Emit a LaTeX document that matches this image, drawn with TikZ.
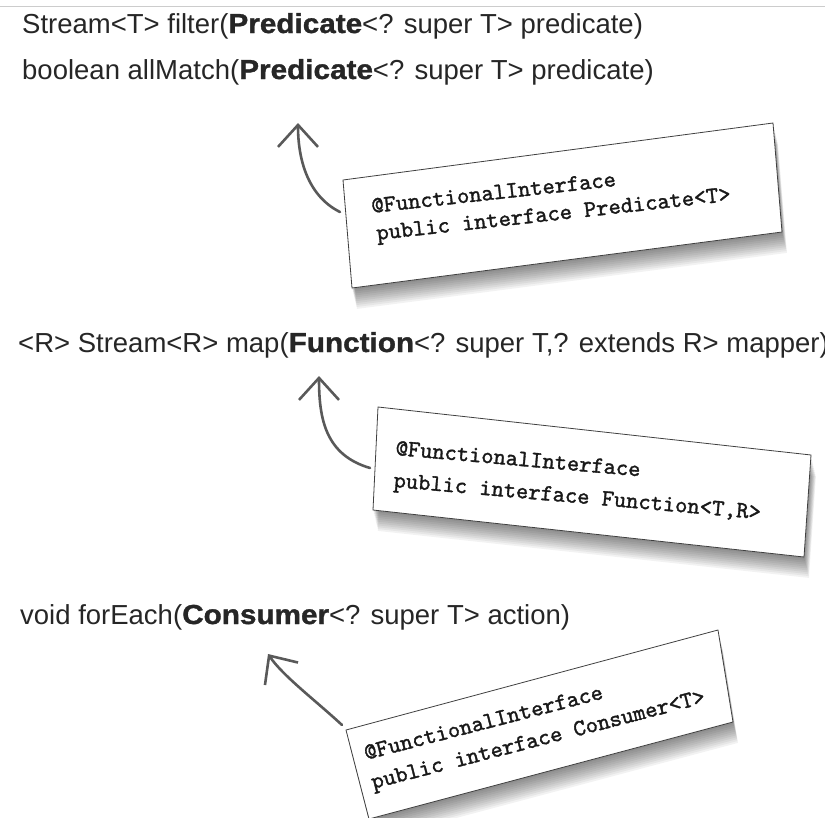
\documentclass[tikz,border=0pt]{standalone}
\usepackage{fontspec}
\setmainfont{Liberation Sans}[BoldFeatures={FakeBold=1.2}]
\newfontfamily\codefont{lmmono10-regular.otf}[FakeBold=1.4]
\usetikzlibrary{arrows.meta}

\newcommand\kw[1]{\scalebox{1.08}[1]{\bfseries #1}}

\tikzset{
  sig/.style={anchor=base west, inner sep=0pt, text=black!85,
    font=\fontsize{27.5}{27.5}\selectfont},
  code/.style={anchor=base west, inner sep=0pt, text=black!90,
    font=\codefont\fontsize{23.4}{23.4}\selectfont},
  card/.style={fill=white, draw=black!75, line width=0.8pt},
  hint/.style={draw=black!65, line width=2.6pt, line cap=round,
    -{Straight Barb[length=22pt,width=40pt]}}
}

\begin{document}
\begin{tikzpicture}[x=1pt, y=-1pt]
    \useasboundingbox (0,0) rectangle (825,817);
    \clip (0,0) rectangle (825,817);
    \draw[black!20, line width=1pt] (0,6.5) -- (825,6.5);

    % the three signatures
    \node[sig] (filter) at (22,33) {Stream<T> filter(\kw{Predicate}<? super T> predicate)};
    \node[sig] (allmatch) at (22,79) {boolean allMatch(\kw{Predicate}<? super T> predicate)};
    \node[sig] (map) at (18,352) {<R> Stream<R> map(\kw{Function}<? super T,? extends R> mapper)};
    \node[sig] (foreach) at (20,624) {void forEach(\kw{Consumer}<? super T> action)};

    % card corners
    \coordinate (p1nw) at (343,180); \coordinate (p1ne) at (773,123);
    \coordinate (p1se) at (782,232); \coordinate (p1sw) at (352,288);
    \coordinate (f1nw) at (378,407); \coordinate (f1ne) at (811,455);
    \coordinate (f1se) at (804,557); \coordinate (f1sw) at (373,510);
    \coordinate (c1nw) at (346,730); \coordinate (c1ne) at (718,630);
    \coordinate (c1se) at (733,722); \coordinate (c1sw) at (369,819);

    % shadows under the cards
    \foreach \k in {1,...,11} {
        \fill[black, opacity=0.05] ([shift={(\k*0.45,\k*1.9)}]p1nw) -- ([shift={(\k*0.45,\k*1.9)}]p1ne)
            -- ([shift={(\k*0.45,\k*1.9)}]p1se) -- ([shift={(\k*0.45,\k*1.9)}]p1sw) -- cycle;
        \fill[black, opacity=0.05] ([shift={(\k*0.45,\k*1.9)}]f1nw) -- ([shift={(\k*0.45,\k*1.9)}]f1ne)
            -- ([shift={(\k*0.45,\k*1.9)}]f1se) -- ([shift={(\k*0.45,\k*1.9)}]f1sw) -- cycle;
        \fill[black, opacity=0.05] ([shift={(\k*0.45,\k*1.9)}]c1nw) -- ([shift={(\k*0.45,\k*1.9)}]c1ne)
            -- ([shift={(\k*0.45,\k*1.9)}]c1se) -- ([shift={(\k*0.45,\k*1.9)}]c1sw) -- cycle;
    }

    % the cards
    \draw[card] (p1nw) -- (p1ne) -- (p1se) -- (p1sw) -- cycle;
    \draw[card] (f1nw) -- (f1ne) -- (f1se) -- (f1sw) -- cycle;
    \draw[card] (c1nw) -- (c1ne) -- (c1se) -- (c1sw) -- cycle;

    \node[code, rotate=6.3] (p1a) at (372,213) {@FunctionalInterface};
    \node[code, rotate=6.3] (p1b) at (377,240) {public interface Predicate<T>};
    \node[code, rotate=-5] (f1a) at (395,455) {@FunctionalInterface};
    \node[code, rotate=-5] (f1b) at (393,487) {public interface Function<T,R>};
    \node[code, rotate=14.5] (c1a) at (366,760) {@FunctionalInterface};
    \node[code, rotate=14.5] (c1b) at (373,789) {public interface Consumer<T>};

    % arrows back to the signatures
    \coordinate (p1tail) at (340,212); \coordinate (p1tip) at (298,123);
    \coordinate (f1tail) at (370,468); \coordinate (f1tip) at (319,376);
    \coordinate (c1tail) at (342,725); \coordinate (c1tip) at (268,654);
    \draw[hint] (p1tail) .. controls (308,196) and (298,160) .. (p1tip);
    \draw[hint] (f1tail) .. controls (326,455) and (319,420) .. (f1tip);
    \draw[hint] (c1tail) .. controls (315,700) and (283,676) .. (c1tip);
\end{tikzpicture}
\end{document}
